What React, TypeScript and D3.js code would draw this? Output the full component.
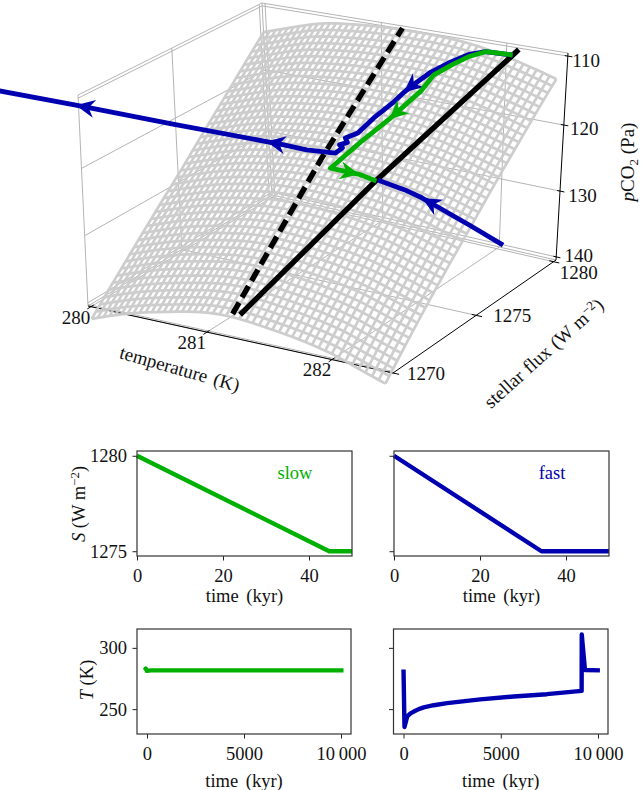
import React, { useEffect, useRef } from "react";
import * as d3 from "d3";

const GREEN = "#00b000";
const BLUE = "#0000b0";
const GRID = "#b4b4b4";
const FONT = "Liberation Serif";

const surfaceTemps = [280, 280.25, 280.5, 280.75, 281, 281.25, 281.5, 281.75, 282, 282.2, 282.42];
const pco2AtLowFlux = [142.3, 140.6, 139.4, 138.4, 137.5, 137.4, 138.0, 138.6, 139.6, 140.9, 142.2];
const pco2AtHighFlux = [113.8, 112.3, 110.8, 110.3, 109.9, 109.8, 109.9, 110.2, 111.2, 112.1, 113.3];

// stable and unstable branches
const stableFlux = [1270, 1275, 1280.2];
const stableTemp = [281.27, 281.66, 282.09];
const stablePco2 = [136.9, 123.67, 110.3];
const unstableFlux = [1270, 1275, 1280];
const unstableTemp = [281.21, 281.22, 281.19];
const unstablePco2 = [137.0, 121.94, 109.6];

// slow ramp trajectory
const slowFlux = [1280, 1279.8, 1279.5, 1279, 1278.5, 1278, 1277.6, 1276.8, 1276, 1275, 1275, 1275];
const slowTemp = [282.07, 282.0, 281.92, 281.85, 281.78, 281.71, 281.67, 281.52, 281.4, 281.29, 281.52, 281.66];
const slowPco2 = [110.9, 110.6, 110.2, 110.5, 111.3, 112.3, 114.1, 117.7, 120.3, 123.2, 123.3, 123.8];
const slowArrows = [7, 10];

// fast ramp trajectory, out to the cold side
const fastFlux = [1280, 1279.5, 1279, 1278.5, 1278, 1277.5, 1277.3, 1277, 1276.4, 1275.9, 1275.6, 1275.5, 1275.4, 1275.2, 1275, 1275, 1275, 1275, 1275, 1275, 1275, 1275];
const fastTemp = [282.07, 281.92, 281.85, 281.78, 281.69, 281.6, 281.57, 281.53, 281.45, 281.39, 281.33, 281.36, 281.31, 281.36, 281.33, 281.26, 281.1, 280.9, 280.76, 279.95, 279.11, 278.45];
const fastPco2 = [110.9, 110.2, 110.2, 110.8, 111.9, 113.6, 114.3, 115.4, 117.2, 118.9, 119.4, 119.8, 120.2, 120.2, 120.8, 120.9, 121.1, 121.0, 121.0, 121.0, 120.9, 120.9];
const fastArrows = [6, 18, 20];

// fast trajectory coming back from the hot side
const returnFlux = [1275, 1275, 1275, 1275, 1275, 1275];
const returnTemp = [282.68, 282.41, 282.13, 282.03, 281.89, 281.67];
const returnPco2 = [129.5, 127.6, 125.7, 125.0, 124.3, 123.6];
const returnArrows = [3];

const tempTicks = [280, 281, 282];
const fluxTicks = [1270, 1275, 1280];
const pco2Ticks = [110, 120, 130, 140];

// small panels
const slowRampTime = [0, 44.7, 50];
const slowRampFlux = [1280, 1275, 1275];
const fastRampTime = [0, 34.3, 50];
const fastRampFlux = [1280, 1275, 1275];
const slowLongTime = [-130, -60, 0, 200, 10130];
const slowLongTemp = [281.6, 283, 281.2, 281.6, 281.6];
const fastLongTime = [0, 50, 100, 190, 360, 530, 786, 1040, 1555, 2240, 3950, 5660, 7370, 9160, 9165, 9330, 10100];
const fastLongTemp = [282.4, 235.4, 238.6, 244, 246.5, 248, 250, 251.4, 253.2, 254.9, 258, 260.3, 262.2, 264.9, 311, 281.9, 281.6];

// box of the 3d axes: normalised coordinates along each edge
const tempToU = d3.scaleLinear().domain([280, 281, 282, 282.48]).range([0.01, 0.39, 0.8, 1]);
const fluxToV = d3.scaleLinear().domain([1270, 1275, 1280]).range([0, 0.51, 0.985]);
const pco2ToW = d3.scaleLinear().domain([110, 120, 130, 140]).range([0.015, 0.348, 0.667, 0.985]);
const boxTop = [[78, 95], [392, 148], [262, 3], [568, 53]];
const boxBottom = [[88, 306], [393, 373], [272, 195], [556, 260]];

function project(u: number, v: number, w: number): [number, number] {
  const mix = (c: number[][], i: number) =>
    (1 - u) * (1 - v) * c[0][i] + u * (1 - v) * c[1][i] + (1 - u) * v * c[2][i] + u * v * c[3][i];
  return [
    mix(boxTop, 0) * (1 - w) + mix(boxBottom, 0) * w,
    mix(boxTop, 1) * (1 - w) + mix(boxBottom, 1) * w,
  ];
}
const point3d = (t: number, s: number, p: number) => project(tempToU(t), fluxToV(s), pco2ToW(p));
const line2d = d3.line();

function drawBox(g: any) {
  const grid = g.append("g").attr("fill", "none").attr("stroke", GRID).attr("stroke-width", 1);
  const seg = (pts: [number, number][]) => grid.append("path").attr("d", line2d(pts));

  seg([project(0, 0, 0), project(0, 1, 0), project(1, 1, 0)]);
  seg([project(0, 1, 0), project(0, 1, 1)]);
  seg([project(0, 0, 1), project(0, 1, 1), project(1, 1, 1)]);
  seg([project(0, 0, 1), project(1, 0, 1)].map(([x, y]) => [x, y - 1.5]) as [number, number][]);

  tempTicks.forEach((t) => {
    const u = tempToU(t);
    seg([project(u, 0, 1), project(u, 1, 1), project(u, 1, 0)]);
  });
  fluxTicks.forEach((s) => {
    const v = fluxToV(s);
    seg([project(1, v, 1), project(0, v, 1), project(0, v, 0)]);
  });
  pco2Ticks.forEach((p) => {
    const w = pco2ToW(p);
    seg([project(0, 0, w), project(0, 1, w), project(1, 1, w)]);
  });

  const ink = g.append("g").attr("fill", "none").attr("stroke", "#000").attr("stroke-width", 1);
  const axisSeg = (pts: [number, number][]) => ink.append("path").attr("d", line2d(pts));
  axisSeg([project(0, 0, 1), project(1, 0, 1)]);
  axisSeg([project(1, 0, 1), project(1, 1, 1)]);
  axisSeg([project(1, 1, 0), project(1, 1, 1)]);
  tempTicks.forEach((t) => axisSeg([project(tempToU(t), -0.02, 1), project(tempToU(t), 0.015, 1)]));
  fluxTicks.forEach((s) => axisSeg([project(0.985, fluxToV(s), 1), project(1.02, fluxToV(s), 1)]));
  pco2Ticks.forEach((p) => axisSeg([project(0.99, 1, pco2ToW(p)), project(1.015, 1, pco2ToW(p))]));

  const label = (at: [number, number], dx: number, dy: number, text: string) =>
    g.append("text").attr("x", at[0] + dx).attr("y", at[1] + dy).attr("text-anchor", "middle").text(text);
  const fluxDx = [33, 36, 25];
  const fluxDy = [10, 10, 20];
  const pco2Dx = [21, 23, 25, 25];
  const pco2Dy = [9, 8, 9, 3];
  tempTicks.forEach((t) => label(point3d(t, 1270, 140), -15, 20, String(t)));
  fluxTicks.forEach((s, i) => label(point3d(282.48, s, 140), fluxDx[i], fluxDy[i], String(s)));
  pco2Ticks.forEach((p, i) => label(point3d(282.48, 1280, p), pco2Dx[i], pco2Dy[i], String(p)));

  g.append("text")
    .attr("transform", "translate(178,375) rotate(16)")
    .attr("text-anchor", "middle")
    .attr("word-spacing", 2)
    .text("temperature (K)");

  const fluxTitle = g.append("text")
    .attr("transform", "translate(548,358) rotate(-42)")
    .attr("text-anchor", "middle")
    .attr("word-spacing", 1);
  fluxTitle.append("tspan").text("stellar flux (W m");
  fluxTitle.append("tspan").attr("dy", -6).attr("font-size", 13).text("\u22122");
  fluxTitle.append("tspan").attr("dy", 6).text(")");

  const pco2Title = g.append("text")
    .attr("transform", "translate(634,162) rotate(-90)")
    .attr("text-anchor", "middle");
  pco2Title.append("tspan").attr("font-style", "italic").text("p");
  pco2Title.append("tspan").text("CO");
  pco2Title.append("tspan").attr("dy", 4).attr("font-size", 13).text("2");
  pco2Title.append("tspan").attr("dy", -4).text(" (Pa)");
}

function drawSurface(g: any) {
  const toIndex = d3.scaleLinear()
    .domain(surfaceTemps)
    .range(surfaceTemps.map((_, i) => i / (surfaceTemps.length - 1)));
  const lowFlux = d3.interpolateBasis(pco2AtLowFlux);
  const highFlux = d3.interpolateBasis(pco2AtHighFlux);
  const height = (t: number, s: number) =>
    lowFlux(toIndex(t)) + ((highFlux(toIndex(t)) - lowFlux(toIndex(t))) * (s - 1270)) / 10;

  const tempCells = 46;
  const fluxCells = 42;
  const temps = d3.range(tempCells + 1).map((i) => 280 + (i * 2.42) / tempCells);
  const fluxes = d3.range(fluxCells + 1).map((i) => 1270 + (i * 10) / fluxCells);

  const mesh = g.append("g")
    .attr("fill", "none")
    .attr("stroke", "#cbcbcb")
    .attr("stroke-width", 2.7)
    .attr("stroke-linejoin", "round")
    .attr("opacity", 0.95);
  temps.forEach((t) => {
    mesh.append("path").attr("d", line2d(fluxes.map((s) => point3d(t, s, height(t, s)))));
  });
  fluxes.forEach((s) => {
    mesh.append("path").attr("d", line2d(temps.map((t) => point3d(t, s, height(t, s)))));
  });
}

function drawTrajectory(
  g: any, temp: number[], flux: number[], pco2: number[],
  color: string, width: number, arrows: number[] = [], dash?: string
) {
  const pts = temp.map((t, i) => point3d(t, flux[i], pco2[i]));
  g.append("path")
    .attr("d", line2d(pts))
    .attr("fill", "none")
    .attr("stroke", color)
    .attr("stroke-width", width)
    .attr("stroke-linejoin", "round")
    .attr("stroke-dasharray", dash ?? null);
  arrows.forEach((i) => {
    const [x, y] = pts[i];
    const a = (Math.atan2(y - pts[i - 1][1], x - pts[i - 1][0]) * 180) / Math.PI;
    g.append("path")
      .attr("d", "M0,0L-19,-9L-13,0L-19,9Z")
      .attr("transform", `translate(${x},${y}) rotate(${a})`)
      .attr("fill", color);
  });
}

function drawPanel(
  svg: any,
  box: { left: number; right: number; top: number; bottom: number },
  xDomain: number[], yDomain: number[], xTicks: number[], yTicks: number[],
  xs: number[], ys: number[], color: string, showY: boolean, timeY: number
) {
  const x = d3.scaleLinear().domain(xDomain).range([box.left, box.right]);
  const y = d3.scaleLinear().domain(yDomain).range([box.bottom, box.top]);
  const xFormat = (d: number) => (d === 10000 ? "10\u2009000" : String(d));

  const bottom = svg.append("g")
    .attr("transform", `translate(0,${box.bottom})`)
    .call(d3.axisBottom(x).tickValues(xTicks).tickSize(4.5).tickFormat(xFormat as any));
  const left = svg.append("g")
    .attr("transform", `translate(${box.left},0)`)
    .call(d3.axisLeft(y).tickValues(yTicks).tickSize(4.5).tickFormat(showY ? (String as any) : (() => "")));
  [bottom, left].forEach((a) => {
    a.select(".domain").remove();
    a.attr("font-family", FONT).attr("font-size", 18.5);
    a.selectAll("line").attr("stroke", "#222").attr("stroke-width", 1);
    a.selectAll("text").attr("fill", "#111");
  });
  bottom.selectAll("text").attr("y", 26).attr("dy", 0);
  left.selectAll("text").attr("x", -10).attr("dy", 6);

  svg.append("path")
    .datum(d3.zip(xs, ys))
    .attr("d", d3.line().x((d: any) => x(d[0])).y((d: any) => y(d[1])))
    .attr("fill", "none")
    .attr("stroke", color)
    .attr("stroke-width", 4.4)
    .attr("stroke-linejoin", "round");

  svg.append("rect")
    .attr("x", box.left).attr("y", box.top)
    .attr("width", box.right - box.left).attr("height", box.bottom - box.top)
    .attr("fill", "none").attr("stroke", "#333").attr("stroke-width", 1.2);

  svg.append("text")
    .attr("x", (box.left + box.right) / 2).attr("y", timeY)
    .attr("text-anchor", "middle")
    .attr("word-spacing", 3)
    .attr("font-family", FONT).attr("font-size", 18.5)
    .attr("fill", "#111")
    .text("time (kyr)");
}

function yTitle(svg: any, x: number, y: number, sym: string, rest: string, sup?: string) {
  const t = svg.append("text")
    .attr("transform", `translate(${x},${y}) rotate(-90)`)
    .attr("text-anchor", "middle")
    .attr("font-family", FONT).attr("font-size", 18.5)
    .attr("fill", "#111");
  t.append("tspan").attr("font-style", "italic").text(sym);
  t.append("tspan").text(rest);
  if (sup) {
    t.append("tspan").attr("dy", -6).attr("font-size", 13).text(sup);
    t.append("tspan").attr("dy", 6).text(")");
  }
}

export default function App() {
  const ref = useRef<SVGSVGElement | null>(null);

  useEffect(() => {
    const svg = d3.select(ref.current);
    svg.selectAll("*").remove();

    const g = svg.append("g").attr("font-family", FONT).attr("font-size", 19).attr("fill", "#111");
    drawBox(g);
    drawSurface(g);
    drawTrajectory(g, unstableTemp, unstableFlux, unstablePco2, "#000", 5.4, [], "13,6");
    drawTrajectory(g, stableTemp, stableFlux, stablePco2, "#000", 5.4);
    drawTrajectory(g, fastTemp, fastFlux, fastPco2, BLUE, 4.8, fastArrows);
    drawTrajectory(g, returnTemp, returnFlux, returnPco2, BLUE, 4.8, returnArrows);
    drawTrajectory(g, slowTemp, slowFlux, slowPco2, GREEN, 4.8, slowArrows);

    const rampX = [0, 50];
    const rampY = [1274.75, 1280.25];
    const longX = [-515, 10515];
    const longY = [229.7, 315.4];
    const upperL = { left: 137, right: 352, top: 451, bottom: 556 };
    const upperR = { left: 394, right: 609, top: 451, bottom: 556 };
    const lowerL = { left: 137, right: 351, top: 629, bottom: 734 };
    const lowerR = { left: 393.5, right: 608, top: 629, bottom: 734 };
    drawPanel(svg, upperL, rampX, rampY, [0, 20, 40], [1275, 1280], slowRampTime, slowRampFlux, GREEN, true, 602);
    drawPanel(svg, upperR, rampX, rampY, [0, 20, 40], [1275, 1280], fastRampTime, fastRampFlux, BLUE, false, 602);
    drawPanel(svg, lowerL, longX, longY, [0, 5000, 10000], [250, 300], slowLongTime, slowLongTemp, GREEN, true, 787);
    drawPanel(svg, lowerR, longX, longY, [0, 5000, 10000], [250, 300], fastLongTime, fastLongTemp, BLUE, false, 787);

    yTitle(svg, 85, 504, "S", " (W m", "\u22122");
    yTitle(svg, 93, 680, "T", " (K)");

    [["slow", 295, GREEN], ["fast", 552, BLUE]].forEach(([s, x, c]) => {
      svg.append("text")
        .attr("x", x as number).attr("y", 479)
        .attr("text-anchor", "middle")
        .attr("font-family", FONT).attr("font-size", 18.5)
        .attr("fill", c as string)
        .text(s as string);
    });
  }, []);

  return <svg ref={ref} width={642} height={790} style={{ position: "absolute", left: 0, top: 0 }} />;
}
